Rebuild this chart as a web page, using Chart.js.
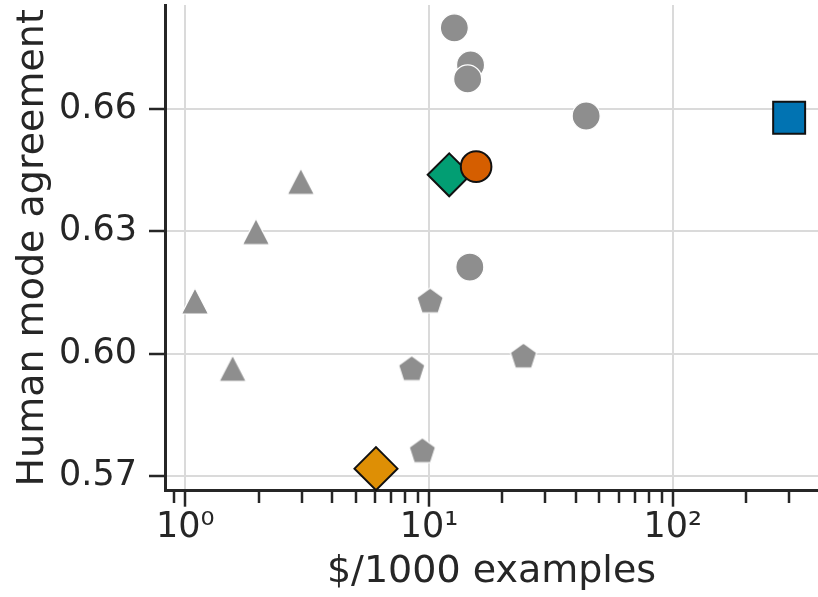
<!DOCTYPE html>
<html>
<head>
<meta charset="utf-8">
<script src="https://cdn.jsdelivr.net/npm/chart.js@4.4.0/dist/chart.umd.min.js"></script>
<style>
  html, body { margin: 0; padding: 0; background: #ffffff; }
  #wrap { width: 818px; height: 597px; position: relative; }
</style>
</head>
<body>
<div id="wrap"><canvas id="c" width="818" height="597"></canvas></div>
<script>
// ---- data ----
const grayCircleX = [12.7, 14.8, 14.4, 44.1, 14.7];
const grayCircleY = [0.6798, 0.6707, 0.6673, 0.6582, 0.6212];
const grayTriangleX = [1.096, 1.565, 1.95, 2.98];
const grayTriangleY = [0.6129, 0.5964, 0.6299, 0.6422];
const grayPentagonX = [10.1, 24.4, 8.49, 9.39];
const grayPentagonY = [0.6127, 0.5992, 0.5961, 0.5760];
const orangeCircleX = [15.6];
const orangeCircleY = [0.6458];
const greenDiamondX = [12.1];
const greenDiamondY = [0.6438];
const blueSquareX = [300];
const blueSquareY = [0.6578];
const orangeDiamondX = [6.06];
const orangeDiamondY = [0.5718];

const xMajorTicks = [1, 10, 100];
const xMajorLabels = ['10\u2070', '10\u00B9', '10\u00B2'];
const xMinorTicks = [0.9, 2, 3, 4, 5, 6, 7, 8, 9, 20, 30, 40, 50, 60, 70, 80, 90, 200, 300];
const yTicks = [0.57, 0.60, 0.63, 0.66];
const xRange = [0.826, 394];
const yRange = [0.5664, 0.6854];

const xTitle = '$/1000 examples';
const yTitle = 'Human mode agreement';

// ---- styling ----
const GRAY = '#8e8e8e';
const INK = '#262626';
const GRID = '#dadada';
const FONT = 'DejaVu Sans';

function pts(xs, ys) { return xs.map((x, i) => ({ x: x, y: ys[i] })); }

function makeShape(kind) {
  const cv = document.createElement('canvas');
  cv.width = 34; cv.height = 34;
  const g = cv.getContext('2d');
  g.translate(17, 17);
  g.beginPath();
  if (kind === 'triangle') {
    g.moveTo(0, -13); g.lineTo(-13.5, 13); g.lineTo(13.5, 13); g.closePath();
  } else {
    const R = 13.8;
    for (let k = 0; k < 5; k++) {
      const a = -Math.PI / 2 + k * 2 * Math.PI / 5;
      const px = R * Math.cos(a), py = R * Math.sin(a);
      if (k === 0) g.moveTo(px, py); else g.lineTo(px, py);
    }
    g.closePath();
  }
  g.fillStyle = GRAY; g.fill();
  g.lineWidth = 1.2; g.strokeStyle = '#ffffff'; g.stroke();
  return cv;
}
const triImg = makeShape('triangle');
const pentImg = makeShape('pentagon');

const allXTicks = xMinorTicks.concat(xMajorTicks).sort((a, b) => a - b);

const datasets = [
  { label: 'orange circle', data: pts(orangeCircleX, orangeCircleY), pointStyle: 'circle',
    pointRadius: 15.3, backgroundColor: '#d55e00', borderColor: '#111111', borderWidth: 2 },
  { label: 'green diamond', data: pts(greenDiamondX, greenDiamondY), pointStyle: 'rectRot',
    pointRadius: 21.5, backgroundColor: '#029e73', borderColor: '#111111', borderWidth: 2 },
  { label: 'blue square', data: pts(blueSquareX, blueSquareY), pointStyle: 'rect',
    pointRadius: 22.6, backgroundColor: '#0173b2', borderColor: '#111111', borderWidth: 2 },
  { label: 'orange diamond', data: pts(orangeDiamondX, orangeDiamondY), pointStyle: 'rectRot',
    pointRadius: 21.5, backgroundColor: '#de8f05', borderColor: '#111111', borderWidth: 2 },
  { label: 'gray circles', data: pts(grayCircleX, grayCircleY), pointStyle: 'circle',
    pointRadius: 14, backgroundColor: GRAY, borderColor: '#ffffff', borderWidth: 1.2 },
  { label: 'gray triangles', data: pts(grayTriangleX, grayTriangleY), pointStyle: triImg,
    pointRadius: 14, backgroundColor: GRAY, borderColor: '#ffffff', borderWidth: 0 },
  { label: 'gray pentagons', data: pts(grayPentagonX, grayPentagonY), pointStyle: pentImg,
    pointRadius: 14, backgroundColor: GRAY, borderColor: '#ffffff', borderWidth: 0 }
].map(d => Object.assign({ clip: false, pointHoverRadius: d.pointRadius }, d));

new Chart(document.getElementById('c'), {
  type: 'scatter',
  data: { datasets: datasets },
  options: {
    responsive: false,
    animation: false,
    devicePixelRatio: 1,
    layout: { autoPadding: false, padding: { top: 5, right: 0, left: 0, bottom: 0 } },
    plugins: { legend: { display: false }, tooltip: { enabled: false } },
    scales: {
      x: {
        type: 'logarithmic',
        min: xRange[0], max: xRange[1],
        afterBuildTicks: (s) => {
          s.ticks = allXTicks.map(v => ({ value: v, major: xMajorTicks.includes(v) }));
        },
        afterFit: (s) => { s.height = 597 - 490.7; s.paddingLeft = 0; s.paddingRight = 0; },
        border: { display: true, color: INK, width: 3 },
        grid: {
          drawTicks: true, tickLength: 16,
          color: (c) => (c.tick && xMajorTicks.includes(c.tick.value)) ? GRID : 'rgba(0,0,0,0)',
          lineWidth: 2,
          tickColor: INK, tickWidth: 2.5,
          tickBorderDash: (c) => (c.tick && xMajorTicks.includes(c.tick.value)) ? [] : [11, 100]
        },
        ticks: {
          autoSkip: false, maxRotation: 0, minRotation: 0, padding: 0,
          color: INK, font: { family: FONT, size: 35 },
          callback: (v) => { const i = xMajorTicks.indexOf(v); return i >= 0 ? xMajorLabels[i] : ''; }
        },
        title: { display: true, text: xTitle, color: INK, font: { family: FONT, size: 38 },
                 padding: { top: 0, bottom: 2 } }
      },
      y: {
        type: 'linear',
        min: yRange[0], max: yRange[1],
        afterBuildTicks: (s) => { s.ticks = yTicks.map(v => ({ value: v })); },
        afterFit: (s) => { s.width = 165; s.paddingTop = 0; s.paddingBottom = 0; },
        border: { display: true, color: INK, width: 3 },
        grid: { drawTicks: true, tickLength: 16, color: GRID, lineWidth: 2, tickColor: INK, tickWidth: 2.5 },
        ticks: {
          padding: 12, color: INK, font: { family: FONT, size: 35 },
          callback: (v) => Number(v).toFixed(2)
        },
        title: { display: true, text: yTitle, color: INK, font: { family: FONT, size: 38 },
                 padding: { top: 10, bottom: 0 } }
      }
    }
  }
});
</script>
</body>
</html>
